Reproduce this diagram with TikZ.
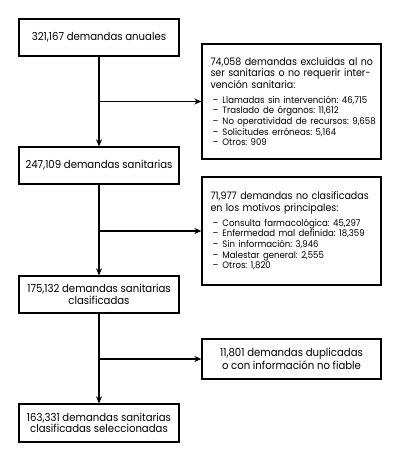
\documentclass[tikz,border=0pt]{standalone}
\usepackage{fontspec}
\setmainfont[FakeStretch=0.92]{Poppins}
\usetikzlibrary{arrows.meta}
\frenchspacing
\newcommand\itm[1]{\mbox{\hspace*{2pt}\makebox[10pt][l]{–}#1}\par}
\newcommand\jl[1]{\makebox[\linewidth][s]{#1}\par}
\newcommand\listfont{\fontsize{9.3}{10.6}\selectfont}
\begin{document}
\begin{tikzpicture}[x=1pt,y=-1pt,
  box/.style={draw, line width=1.3pt, inner sep=0pt, minimum width=160pt, align=center, font=\fontsize{11}{11.5}\selectfont},
  side/.style={draw, line width=1.3pt, inner xsep=8.5pt, inner ysep=0pt, text width=162pt, minimum width=179pt, align=left, font=\fontsize{10.3}{11.5}\selectfont},
  arr/.style={line width=1.3pt, -{Stealth[length=7pt,width=6pt]}}]
\useasboundingbox (0,0) rectangle (400,461);
\node[box, minimum height=37pt] (b1) at (99,37.5) {321,167 demandas anuales};
\node[box, minimum height=37pt] (b2) at (99,165.5) {247,109 demandas sanitarias};
\node[box, minimum height=37pt] (b3) at (99,294.5) {175,132 demandas sanitarias\\clasificadas};
\node[box, minimum height=38pt] (b4) at (99,423) {163,331 demandas sanitarias\\clasificadas seleccionadas};
\node[side, minimum height=115pt] (r1) at (291.5,101.5) {\jl{74,058 demandas excluidas al no}\jl{ser sanitarias o no requerir inter-}\mbox{vención sanitaria:}\par
\vspace{4.5pt}{\listfont
\itm{Llamadas sin intervención: 46,715}
\itm{Traslado de órganos: 11,612}
\itm{No operatividad de recursos: 9,658}
\itm{Solicitudes erróneas: 5,164}
\itm{Otros: 909}}};
\node[side, minimum height=108pt] (r2) at (291.5,231) {\jl{71,977 demandas no clasificadas}\mbox{en los motivos principales:}\par
\vspace{4.5pt}{\listfont
\itm{Consulta farmacológica: 45,297}
\itm{Enfermedad mal definida: 18,359}
\itm{Sin información: 3,946}
\itm{Malestar general: 2,555}
\itm{Otros: 1,820}}\vspace{4pt}};
\node[box, minimum width=179pt, minimum height=40pt] (r3) at (291.5,359) {11,801 demandas duplicadas\\o con información no fiable};
\draw[arr] (b1) -- (b2);
\draw[arr] (b2) -- (b3);
\draw[arr] (b3) -- (b4);
\coordinate (j1) at (b1.south |- r1.west);
\coordinate (j2) at (b2.south |- r2.west);
\coordinate (j3) at (b3.south |- r3.west);
\draw[arr] (j1) -- (r1.west);
\draw[arr] (j2) -- (r2.west);
\draw[arr] (j3) -- (r3.west);
\end{tikzpicture}
\end{document}
